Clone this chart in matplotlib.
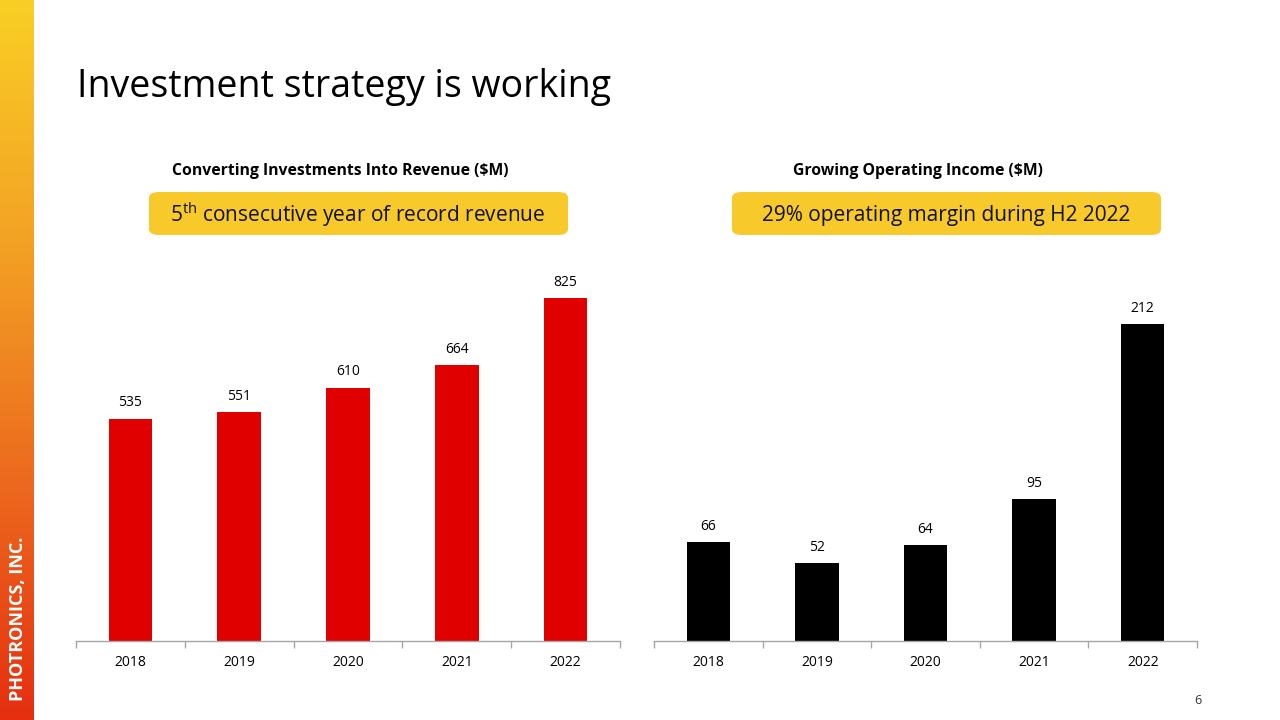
import matplotlib
matplotlib.use("Agg")
import matplotlib.pyplot as plt
import numpy as np
from matplotlib.patches import FancyBboxPatch
from matplotlib.colors import LinearSegmentedColormap

years = ["2018", "2019", "2020", "2021", "2022"]
revenue = [535, 551, 610, 664, 825]
op_income = [66, 52, 64, 95, 212]

title = "Investment strategy is working"
left_title = "Converting Investments Into Revenue ($M)"
right_title = "Growing Operating Income ($M)"
right_callout = "29% operating margin during H2 2022"
sidebar_text = "PHOTRONICS, INC."

FONT = "Open Sans"
plt.rcParams['font.family'] = [FONT, 'DejaVu Sans']
plt.rcParams['mathtext.fontset'] = 'custom'
plt.rcParams['mathtext.rm'] = FONT

fig = plt.figure(figsize=(12.8, 7.2), dpi=100)
W, H = 1280, 720

def fx(px):
    return px / W

def fy(py):
    return 1 - py / H

# sidebar gradient
sax = fig.add_axes([0, 0, fx(34), 1])
cmap = LinearSegmentedColormap.from_list("side", ["#F9CF24", "#F3A225", "#EC6A1E", "#E52F10"])
grad = np.linspace(0, 1, 256).reshape(-1, 1)
sax.imshow(grad, aspect='auto', cmap=cmap, extent=[0, 1, 0, 1], origin='upper')
sax.set_axis_off()
fig.text(fx(18), fy(619), sidebar_text, rotation=90, color='white', fontsize=13,
         fontweight='bold', ha='center', va='center')

fig.text(fx(77), fy(97), title, fontsize=27, ha='left', va='baseline', color='black')

fig.text(fx(340), fy(171), left_title, fontsize=11.3, fontweight='bold', ha='center', va='center')
fig.text(fx(918), fy(171), right_title, fontsize=11.3, fontweight='bold', ha='center', va='center')

def callout(x0, x1, y0, y1, txt, cx):
    box = FancyBboxPatch((fx(x0), fy(y1)), fx(x1 - x0), (y1 - y0) / H,
                         boxstyle="round,pad=0,rounding_size=0.008",
                         transform=fig.transFigure, facecolor="#F8C92A", edgecolor='none')
    fig.patches.append(box)
    fig.text(fx(cx), fy(215), txt, fontsize=15, ha='center', va='center', color='#111111')

callout(149, 568, 192, 235, r"5$^{\mathrm{th}}$ consecutive year of record revenue", 358)
callout(732, 1161, 192, 235, right_callout, 946)

def bar_panel(rect, vals, color, ymax):
    ax = fig.add_axes(rect)
    x = np.arange(len(years))
    bars = ax.bar(x, vals, width=0.40, color=color)
    ax.set_xlim(-0.5, len(years) - 0.5)
    ax.set_ylim(0, ymax)
    for s in ['top', 'right', 'left']:
        ax.spines[s].set_visible(False)
    ax.spines['bottom'].set_color('#A6A6A6')
    ax.spines['bottom'].set_linewidth(1.0)
    ax.set_yticks([])
    ax.set_xticks(x)
    ax.set_xticklabels(years, fontsize=10)
    ax.tick_params(axis='x', which='major', length=0, pad=10)
    ax.set_xticks(np.arange(-0.5, len(years), 1.0), minor=True)
    ax.tick_params(axis='x', which='minor', length=5, color='#A6A6A6', width=1.0)
    for b, v in zip(bars, vals):
        ax.annotate(str(v), (b.get_x() + b.get_width() / 2, v), xytext=(0, 6),
                    textcoords='offset points', ha='center', va='bottom', fontsize=10)
    ax.patch.set_alpha(0)
    return ax

bottom = (H - 641) / H
height = 374 / H
bar_panel([fx(76), bottom, fx(544), height], revenue, "#E00000", 900)
bar_panel([fx(654), bottom, fx(543), height], op_income, "#000000", 250)

fig.text(fx(1198), fy(700), "6", fontsize=9, ha='center', va='center', color='#333333')

fig.savefig("out.png", dpi=100)
